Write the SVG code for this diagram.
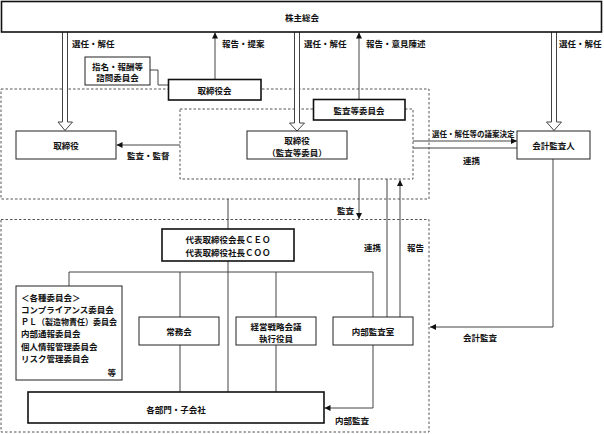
<svg xmlns="http://www.w3.org/2000/svg" width="604" height="434" viewBox="0 0 604 434">
<defs>
<style>
text{font-family:"Noto Sans CJK JP","Noto Sans CJK SC",sans-serif;font-size:8.5px;font-weight:600;fill:#111;dominant-baseline:central}
.c{text-anchor:middle}
.box{fill:#fff;stroke:#222;stroke-width:1}
.bold{fill:#fff;stroke:#111;stroke-width:1.6}
.dash{fill:none;stroke:#555;stroke-width:1;stroke-dasharray:2.5 2}
.ln{fill:none;stroke:#444;stroke-width:1}
.ar{fill:none;stroke:#444;stroke-width:1;marker-end:url(#ah)}
.hol{fill:#fff;stroke:#444;stroke-width:1}
.sm{font-size:7.5px}
</style>
<marker id="ah" markerUnits="userSpaceOnUse" markerWidth="6" markerHeight="6" viewBox="0 0 6 6" refX="6" refY="3" orient="auto">
<path d="M0,0 L6,3 L0,6 Z" fill="#111"/>
</marker>
</defs>

<g id="regions">
<rect class="dash" x="1" y="89" width="428" height="110"/>
<rect class="dash" x="180" y="109" width="233" height="70"/>
<rect class="dash" x="1" y="219.5" width="428" height="212.5"/>
</g>

<g id="connectors">
<path class="ar" d="M215,79 V32.5"/>
<path class="ar" d="M359,99 V32.5"/>
<path class="ln" d="M150,70 H158 V85 H169"/>
<path class="ar" d="M180,145 H116.5"/>
<path class="ar" d="M413,141 H517"/>
<path class="ln" d="M413,148 H517"/>
<path class="ar" d="M359,179 V219"/>
<path class="ln" d="M387,317 V179"/>
<path class="ar" d="M400,317 V180"/>
<path class="ar" d="M553,159 V327 H430"/>
<path class="ln" d="M228,199 V229"/>
<path class="ln" d="M228,261 V392"/>
<path class="ln" d="M69,286 V272 H373 V317"/>
<path class="ln" d="M180,272 V317 M180,345 V392"/>
<path class="ln" d="M276,272 V317 M276,345 V392"/>
<path class="ar" d="M373,345 V408 H324.5"/>
<path class="hol" d="M62.5,32 V122 H58 L65,130.5 L72.5,122 H67.5 V32"/>
<path class="hol" d="M294.5,32 V123 H289.5 L297,131 L304.5,123 H299.5 V32"/>
<path class="hol" d="M551.5,32 V122 H546.5 L554,130.5 L561.5,122 H556.5 V32"/>
</g>

<g id="n-shareholders">
<rect class="bold" x="1.5" y="1.5" width="600" height="30.5"/>
<text class="c" x="302" y="17">株主総会</text>
</g>

<g id="n-nominating">
<rect class="box" x="85" y="57" width="65" height="28"/>
<text class="c" x="117.5" y="65.5">指名・報酬等</text>
<text class="c" x="117.5" y="77">諮問委員会</text>
</g>

<g id="n-board-meeting">
<rect class="bold" x="168.5" y="79.5" width="92.5" height="20.5"/>
<text class="c" x="214.5" y="90">取締役会</text>
</g>

<g id="n-audit-committee">
<rect class="bold" x="313.5" y="99.5" width="91.5" height="20.5"/>
<text class="c" x="359" y="110">監査等委員会</text>
</g>

<g id="n-directors">
<rect class="box" x="16" y="131" width="100" height="28"/>
<text class="c" x="66" y="145">取締役</text>
</g>

<g id="n-audit-directors">
<rect class="box" x="247" y="131" width="100" height="28"/>
<text class="c" x="297" y="140">取締役</text>
<text class="c" x="297" y="152">（監査等委員）</text>
</g>

<g id="n-auditor">
<rect class="box" x="517" y="131" width="73" height="28"/>
<text class="c" x="553.5" y="145">会計監査人</text>
</g>

<g id="n-ceo">
<rect class="bold" x="162" y="229" width="132" height="32"/>
<text class="c" x="228" y="239">代表取締役会長ＣＥＯ</text>
<text class="c" x="228" y="252">代表取締役社長ＣＯＯ</text>
</g>

<g id="n-committees">
<rect class="box" x="16" y="286" width="106" height="94"/>
<text x="21" y="297">＜各種委員会＞</text>
<text x="21" y="309">コンプライアンス委員会</text>
<text x="21" y="321" textLength="96" lengthAdjust="spacingAndGlyphs">ＰＬ（製造物責任）委員会</text>
<text x="21" y="333">内部通報委員会</text>
<text x="21" y="346">個人情報管理委員会</text>
<text x="21" y="358">リスク管理委員会</text>
<text x="116" y="372" text-anchor="end">等</text>
</g>

<g id="n-executive">
<rect class="box" x="139" y="317" width="80" height="28"/>
<text class="c" x="179" y="331">常務会</text>
</g>

<g id="n-strategy">
<rect class="box" x="236" y="317" width="80" height="28"/>
<text class="c" x="276" y="326">経営戦略会議</text>
<text class="c" x="276" y="338">執行役員</text>
</g>

<g id="n-internal-audit">
<rect class="box" x="333" y="317" width="80" height="28"/>
<text class="c" x="373" y="331">内部監査室</text>
</g>

<g id="n-divisions">
<rect class="bold" x="28" y="392" width="296" height="31"/>
<text class="c" x="176" y="409">各部門・子会社</text>
</g>

<g id="labels">
<text x="72" y="43">選任・解任</text>
<text x="222" y="43">報告・提案</text>
<text x="304" y="43">選任・解任</text>
<text x="366" y="43">報告・意見陳述</text>
<text x="559" y="43">選任・解任</text>
<text x="127" y="155">監査・監督</text>
<text class="sm" x="432" y="133">選任・解任等の議案決定</text>
<text x="463" y="160">連携</text>
<text x="337" y="210">監査</text>
<text x="364" y="247">連携</text>
<text x="407" y="247">報告</text>
<text x="463" y="337">会計監査</text>
<text x="335" y="420">内部監査</text>
</g>
</svg>
